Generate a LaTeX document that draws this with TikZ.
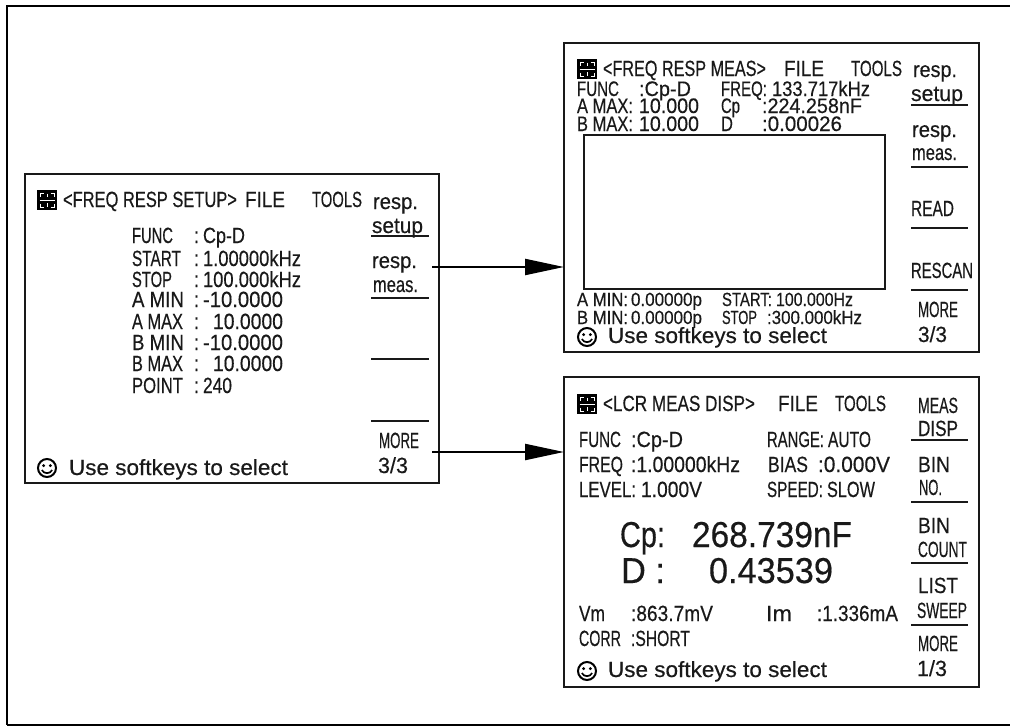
\documentclass[tikz,border=0pt]{standalone}
\usepackage{fontspec}
\usepackage{graphicx}
\setmainfont[FakeBold=0.4]{Liberation Sans}
\usetikzlibrary{arrows.meta}
\newcounter{txtno}
\newsavebox{\txtbox}
% \FitText{size}{width}{text}: real text squeezed to a given width
\newcommand{\FitText}[3]{%
  \sbox{\txtbox}{\fontsize{#1}{#1}\selectfont #3}%
  \pgfmathsetmacro{\txtratio}{#2/\the\wd\txtbox}%
  \scalebox{\txtratio}[1]{\usebox{\txtbox}}%
}
% \Tx[size]{x}{y}{width}{text}: placed by its baseline start
\newcommand{\Tx}[5][22]{%
  \stepcounter{txtno}%
  \node[txt] (t\arabic{txtno}) at (#2,#3) {\FitText{#1}{#4}{#5}};%
}
\newcommand{\StatusIcon}[3]{% name, left x, top y
  \begin{scope}[shift={(#2,#3)}]
    \node[iconbox] (#1) at (10,10) {};
    \draw[iconline] (2.5,10) -- (17.5,10) (10,3.5) -- (10,7) (10,13) -- (10,16.5);
    \draw[iconline] (3,6.5) -- (3,3) -- (6.5,3) (13.5,3) -- (17,3) -- (17,6.5)
                    (3,13.5) -- (3,17) -- (6.5,17) (13.5,17) -- (17,17) -- (17,13.5);
  \end{scope}}
\newcommand{\Smiley}[3]{% name, centre x, centre y
  \begin{scope}[shift={(#2,#3)}]
    \node[smileface] (#1) at (0,0) {};
    \fill (-3.4,-2.4) circle (1.6) (3.4,-2.4) circle (1.6);
    \draw[line width=1.7pt] (-5.2,2) .. controls (-3,6.2) and (3,6.2) .. (5.2,2);
  \end{scope}}
\tikzset{
  txt/.style={anchor=base west,inner sep=0pt,outer sep=0pt,text=black!90},
  panel/.style={draw=black!90,line width=2.6pt,fill=white,inner sep=0pt,outer sep=0pt,anchor=north west},
  softline/.style={line width=2.4pt,black!90},
  link/.style={line width=2.2pt,black,-{Triangle[length=39pt,width=16pt]}},
  frameline/.style={line width=2.6pt,black},
  iconbox/.style={fill=black,minimum width=20pt,minimum height=20pt,inner sep=0pt,outer sep=0pt},
  iconline/.style={white,line width=1pt},
  smileface/.style={draw=black,line width=2pt,circle,minimum size=18pt,inner sep=0pt,outer sep=0pt}
}
\begin{document}
\begin{tikzpicture}[x=1pt,y=-1pt]
\useasboundingbox (0,0) rectangle (1010,726);
\draw[frameline] (1010,6) -- (7,6) -- (7,725);
\draw[black,line width=1.4pt] (7,725) -- (1010,725);

% ---- panels
\node[panel,minimum width=414pt,minimum height=309pt] (setup) at (25,174) {};
\node[panel,minimum width=415pt,minimum height=309pt] (meas) at (564,43) {};
\node[panel,minimum width=415pt,minimum height=310pt] (disp) at (564,377) {};
\node[panel,minimum width=301pt,minimum height=154pt,line width=2.4pt] (graph) at (584,135) {};

% ---- connectors
\coordinate (from1) at (432,267);
\coordinate (from2) at (432,452);
\draw[link] (from1) -- (from1 -| meas.west);
\draw[link] (from2) -- (from2 -| disp.west);

% ---- left panel
\StatusIcon{iconA}{37}{190}
\Tx{63}{207}{174}{<FREQ RESP SETUP>}
\Tx{245}{207}{40}{FILE}
\Tx{312}{207}{50}{TOOLS}
\Tx{373}{209}{45}{resp.}
\Tx{372}{233}{51}{setup}
\Tx{372}{268}{45}{resp.}
\Tx{373}{292}{45}{meas.}
\Tx{379}{448}{40}{MORE}
\Tx{378}{473}{30}{3/3}
\foreach \yy in {236,298,359,421} \draw[softline] (371,\yy) -- (429,\yy);
\Tx{132}{243}{41}{FUNC}
\Tx{132}{266}{49}{START}
\Tx{132}{287}{40}{STOP}
\Tx{132}{307}{52}{A MIN}
\Tx{132}{329}{51}{A MAX}
\Tx{132}{350}{52}{B MIN}
\Tx{132}{371}{51}{B MAX}
\Tx{132}{393}{51}{POINT}
\foreach \yy in {243,266,287,307,329,350,371,393} {\Tx{194}{\yy}{5}{:}}
\Tx{203}{243}{42}{Cp-D}
\Tx{203}{266}{98}{1.00000kHz}
\Tx{203}{287}{98}{100.000kHz}
\Tx{203}{307}{80}{-10.0000}
\Tx{213}{329}{70}{10.0000}
\Tx{203}{350}{80}{-10.0000}
\Tx{213}{371}{70}{10.0000}
\Tx{203}{393}{29}{240}
\Smiley{smileA}{47}{468}
\Tx{69}{475}{219}{Use softkeys to select}

% ---- upper right panel
\StatusIcon{iconB}{577}{59}
\Tx{603}{76}{163}{<FREQ RESP MEAS>}
\Tx{784}{76}{40}{FILE}
\Tx{851}{76}{51}{TOOLS}
\Tx{913}{77}{44}{resp.}
\Tx{911}{101}{52}{setup}
\Tx{912}{137}{45}{resp.}
\Tx{912}{160}{45}{meas.}
\Tx{911}{216}{43}{READ}
\Tx{911}{278}{62}{RESCAN}
\Tx{918}{317}{40}{MORE}
\Tx{918}{342}{29}{3/3}
\foreach \yy in {105,167,228,290} \draw[softline] (911,\yy) -- (968,\yy);
\Tx[21]{577}{96}{42}{FUNC}
\Tx[21]{639}{96}{52}{:Cp-D}
\Tx[21]{721}{96}{46}{FREQ:}
\Tx[21]{772}{96}{98}{133.717kHz}
\Tx[21]{577}{113}{56}{A MAX:}
\Tx[21]{639}{113}{60}{10.000}
\Tx[21]{721}{113}{19}{Cp}
\Tx[21]{762}{113}{100}{:224.258nF}
\Tx[21]{577}{131}{56}{B MAX:}
\Tx[21]{639}{131}{60}{10.000}
\Tx[21]{721}{131}{12}{D}
\Tx[21]{762}{131}{80}{:0.00026}
\Tx[19]{577}{306}{51}{A MIN:}
\Tx[19]{631}{306}{71}{0.00000p}
\Tx[19]{722}{306}{50}{START:}
\Tx[19]{776}{306}{77}{100.000Hz}
\Tx[19]{577}{324}{51}{B MIN:}
\Tx[19]{631}{324}{71}{0.00000p}
\Tx[19]{722}{324}{35}{STOP}
\Tx[19]{767}{324}{95}{:300.000kHz}
\Smiley{smileB}{587}{337}
\Tx{608}{343}{219}{Use softkeys to select}

% ---- lower right panel
\StatusIcon{iconC}{577}{394}
\Tx{603}{411}{152}{<LCR MEAS DISP>}
\Tx{778}{411}{40}{FILE}
\Tx{835}{411}{51}{TOOLS}
\Tx{918}{413}{40}{MEAS}
\Tx{918}{436}{40}{DISP}
\Tx{918}{472}{32}{BIN}
\Tx{919}{495}{23}{NO.}
\Tx{918}{533}{32}{BIN}
\Tx{918}{557}{49}{COUNT}
\Tx{918}{593}{40}{LIST}
\Tx{917}{618}{50}{SWEEP}
\Tx{918}{651}{40}{MORE}
\Tx{917}{676}{30}{1/3}
\foreach \yy in {440,502,563,625} \draw[softline] (911,\yy) -- (968,\yy);
\Tx{579}{447}{42}{FUNC}
\Tx{631}{447}{52}{:Cp-D}
\Tx{767}{447}{57}{RANGE:}
\Tx{828}{447}{43}{AUTO}
\Tx{579}{472}{44}{FREQ}
\Tx{631}{472}{109}{:1.00000kHz}
\Tx{768}{472}{40}{BIAS}
\Tx{818}{472}{72}{:0.000V}
\Tx{579}{497}{57}{LEVEL:}
\Tx{641}{497}{61}{1.000V}
\Tx{767}{497}{56}{SPEED:}
\Tx{827}{497}{48}{SLOW}
\Tx[36]{620}{547}{45}{Cp:}
\Tx[36]{692}{547}{160}{268.739nF}
\Tx[36]{621}{583}{44}{D :}
\Tx[36]{709}{583}{124}{0.43539}
\Tx{579}{621}{26}{Vm}
\Tx{631}{621}{82}{:863.7mV}
\Tx{766}{621}{26}{Im}
\Tx{817}{621}{81}{:1.336mA}
\Tx{579}{646}{42}{CORR}
\Tx{631}{646}{59}{:SHORT}
\Smiley{smileC}{587}{671}
\Tx{608}{677}{219}{Use softkeys to select}
\end{tikzpicture}
\end{document}
